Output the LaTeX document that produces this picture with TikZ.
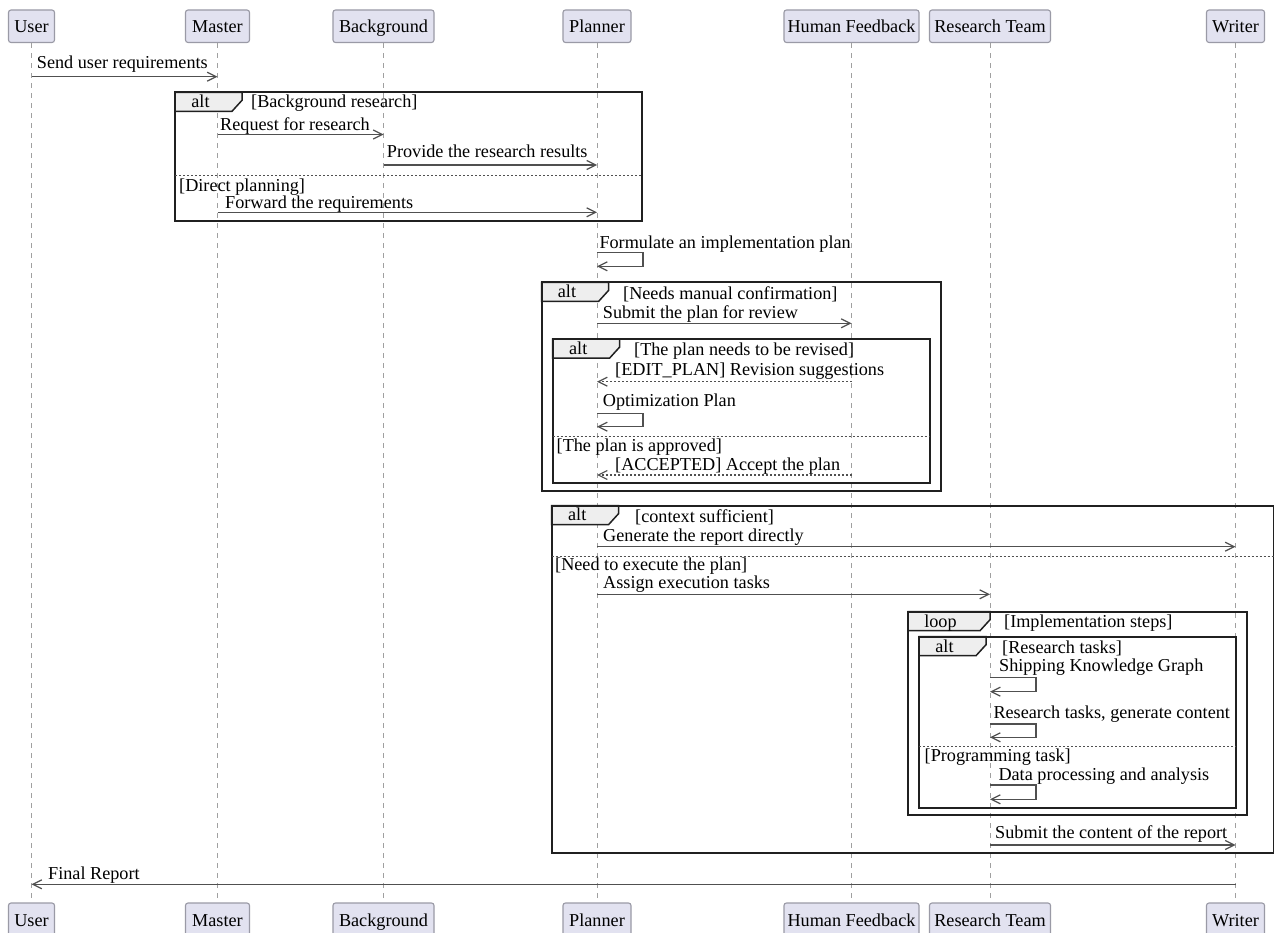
\documentclass[tikz,border=0pt]{standalone}
\usepackage{fontspec}
\setmainfont{Liberation Serif}
\usetikzlibrary{arrows.meta}
\definecolor{partfill}{HTML}{E2E2F0}
\definecolor{partdraw}{HTML}{9A9AA6}
\definecolor{lifecol}{HTML}{A0A0A0}
\definecolor{msgcol}{HTML}{505050}
\definecolor{framecol}{HTML}{202020}
\definecolor{tabfill}{HTML}{EEEEEE}
% #1 L, #2 T, #3 R, #4 B, #5 tab width, #6 label offset, #7 label, #8 node name
\newcommand\seqfrag[8]{%
  \draw[tabstyle] (#1,#2) -- (#1+#5,#2) -- (#1+#5,#2+8) -- (#1+#5-10,#2+19) -- (#1,#2+19) -- cycle;
  \draw[frm] (#1,#2) rectangle (#3,#4);
  \node[lbl, anchor=base] (#8) at (#1+#6,#2+15.3) {#7};
}
\begin{document}
\begin{tikzpicture}[x=1pt,y=-1pt,
  font=\fontsize{18.2}{20}\selectfont,
  part/.style={draw=partdraw, fill=partfill, line width=1.1pt, rounded corners=2.5pt,
    minimum height=32.5pt, inner sep=0pt, text height=13.5pt, text depth=0pt},
  life/.style={draw=lifecol, line width=0.9pt, dash pattern=on 5pt off 5pt},
  msg/.style={draw=msgcol, line width=1.2pt, -{Straight Barb[length=9pt,width=9pt]}},
  reply/.style={msg, dash pattern=on 2pt off 2pt},
  lbl/.style={anchor=base west, inner sep=0pt},
  frm/.style={draw=framecol, line width=2pt},
  tabstyle/.style={draw=framecol, line width=1.5pt, fill=tabfill},
  sepline/.style={draw=msgcol, line width=0.9pt, dash pattern=on 2pt off 2pt},
]
\clip (0,0) rectangle (1274,933);
\fill[white] (0,0) rectangle (1274,933);

% participants (top)
\node[part, minimum width=46pt]  (uT) at (31.5,26.25)  {User};
\node[part, minimum width=64pt]  (mT) at (217.5,26.25) {Master};
\node[part, minimum width=101pt] (bT) at (383.5,26.25) {Background};
\node[part, minimum width=68pt]  (pT) at (597,26.25)   {Planner};
\node[part, minimum width=135pt] (hT) at (851.5,26.25) {Human Feedback};
\node[part, minimum width=121pt] (rT) at (990,26.25)   {Research Team};
\node[part, minimum width=58pt]  (wT) at (1235.5,26.25){Writer};
% participants (bottom)
\node[part, minimum width=46pt]  (uB) at (31.5,919.25)  {User};
\node[part, minimum width=64pt]  (mB) at (217.5,919.25) {Master};
\node[part, minimum width=101pt] (bB) at (383.5,919.25) {Background};
\node[part, minimum width=68pt]  (pB) at (597,919.25)   {Planner};
\node[part, minimum width=135pt] (hB) at (851.5,919.25) {Human Feedback};
\node[part, minimum width=121pt] (rB) at (990,919.25)   {Research Team};
\node[part, minimum width=58pt]  (wB) at (1235.5,919.25){Writer};

% lifelines
\draw[life] (uT.south) -- (uB.north);
\draw[life] (mT.south) -- (mB.north);
\draw[life] (bT.south) -- (bB.north);
\draw[life] (pT.south) -- (pB.north);
\draw[life] (hT.south) -- (hB.north);
\draw[life] (rT.south) -- (rB.north);
\draw[life] (wT.south) -- (wB.north);

% fragments
\seqfrag{175}{92.3}{641.5}{221}{67}{25.5}{alt}{f1}
\seqfrag{541.5}{282.5}{940.5}{490.7}{67}{25.5}{alt}{f2}
\seqfrag{552.7}{339}{930}{483.3}{67}{25.5}{alt}{f2b}
\seqfrag{551.7}{505.5}{1273.5}{853.3}{67}{25.5}{alt}{f3}
\seqfrag{908}{611.7}{1247}{815}{82}{32.5}{loop}{f4}
\seqfrag{919}{636.7}{1236}{808.3}{67}{25.5}{alt}{f5}

% guards
\node[lbl] (g1)  at (251,108)     {[Background research]};
\node[lbl] (g1e) at (179,192)     {[Direct planning]};
\node[lbl] (g2)  at (623,299)     {[Needs manual confirmation]};
\node[lbl] (g2b) at (634,355)     {[The plan needs to be revised]};
\node[lbl] (g2e) at (556.5,451.7) {[The plan is approved]};
\node[lbl] (g3)  at (635,522)     {[context sufficient]};
\node[lbl] (g3e) at (555,570)     {[Need to execute the plan]};
\node[lbl] (g4)  at (1004,627.3)  {[Implementation steps]};
\node[lbl] (g5)  at (1002,653.3)  {[Research tasks]};
\node[lbl] (g5e) at (924.5,761.7) {[Programming task]};

% separators
\draw[sepline] (175,175) -- (641.5,175);
\draw[sepline] (552.7,436) -- (930,436);
\draw[sepline] (551.7,556.7) -- (1274,556.7);
\draw[sepline] (919,746.7) -- (1236,746.7);

% messages
\draw[msg] (uT |- 0,76.7) -- (mT |- 0,76.7);
\node[lbl] (t1) at (36.7,68.5) {Send user requirements};

\draw[msg] (mT |- 0,134.5) -- (bT |- 0,134.5);
\node[lbl] (t2) at (220,130.5) {Request for research};

\draw[msg] (bT |- 0,165) -- (pT |- 0,165);
\node[lbl] (t3) at (386.7,157.7) {Provide the research results};

\draw[msg] (mT |- 0,212.3) -- (pT |- 0,212.3);
\node[lbl] (t4) at (225,208.7) {Forward the requirements};

\draw[msg] (pT |- 0,252.7) -| (643,266.3) -- (pT |- 0,266.3);
\node[lbl] (t5) at (599.3,249) {Formulate an implementation plan};

\draw[msg] (pT |- 0,323.3) -- (hT |- 0,323.3);
\node[lbl] (t6) at (602.7,319) {Submit the plan for review};

\draw[reply] (hT |- 0,381.7) -- (pT |- 0,381.7);
\node[lbl] (t7) at (615,375.5) {[EDIT\_PLAN] Revision suggestions};

\draw[msg] (pT |- 0,413.3) -| (643,426.7) -- (pT |- 0,426.7);
\node[lbl] (t8) at (602.7,406.7) {Optimization Plan};

\draw[reply] (hT |- 0,475) -- (pT |- 0,475);
\node[lbl] (t9) at (615,470) {[ACCEPTED] Accept the plan};

\draw[msg] (pT |- 0,546.7) -- (wT |- 0,546.7);
\node[lbl] (t10) at (603,541.7) {Generate the report directly};

\draw[msg] (pT |- 0,594.3) -- (rT |- 0,594.3);
\node[lbl] (t11) at (603,588.3) {Assign execution tasks};

\draw[msg] (rT |- 0,677.7) -| (1036,691.7) -- (rT |- 0,691.7);
\node[lbl] (t12) at (999,671.7) {Shipping Knowledge Graph};

\draw[msg] (rT |- 0,724) -| (1036,737.3) -- (rT |- 0,737.3);
\node[lbl] (t13) at (993.3,718.3) {Research tasks, generate content};

\draw[msg] (rT |- 0,785) -| (1036,799.3) -- (rT |- 0,799.3);
\node[lbl] (t14) at (998.3,780.7) {Data processing and analysis};

\draw[msg] (rT |- 0,845) -- (wT |- 0,845);
\node[lbl] (t15) at (995,838.3) {Submit the content of the report};

\draw[msg] (wT |- 0,884.3) -- (uT |- 0,884.3);
\node[lbl] (t16) at (48,879.3) {Final Report};
\end{tikzpicture}
\end{document}
